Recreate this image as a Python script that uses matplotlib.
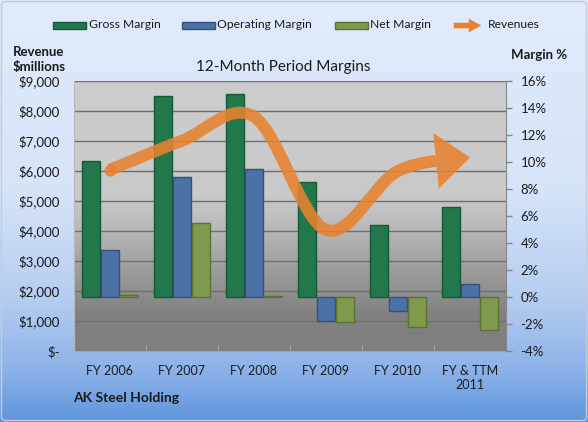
import numpy as np
import matplotlib
matplotlib.use('Agg')
import matplotlib.pyplot as plt
from matplotlib.colors import LinearSegmentedColormap
from matplotlib.patches import Rectangle, FancyBboxPatch, FancyArrowPatch, PathPatch
from matplotlib.path import Path
from matplotlib.bezier import split_de_casteljau

plt.rcParams['font.family'] = ['Lato', 'DejaVu Sans']

# data
periods = ['FY 2006', 'FY 2007', 'FY 2008', 'FY 2009', 'FY 2010', 'FY & TTM\n2011']
gross_margin = [10.1, 14.9, 15.05, 8.55, 5.35, 6.65]
operating_margin = [3.45, 8.9, 9.45, -1.75, -1.0, 1.0]
net_margin = [0.15, 5.45, 0.1, -1.85, -2.2, -2.45]
revenues = [6040, 7010, 7810, 4040, 6000, 6450]

rev_ticks = [0, 1000, 2000, 3000, 4000, 5000, 6000, 7000, 8000, 9000]
rev_labels = ['$-', '$1,000', '$2,000', '$3,000', '$4,000', '$5,000',
              '$6,000', '$7,000', '$8,000', '$9,000']
pct_ticks = [-4, -2, 0, 2, 4, 6, 8, 10, 12, 14, 16]
pct_labels = [f'{t}%' for t in pct_ticks]

W, H = 588, 422
GREEN, GREEN_E = '#22784b', '#17573a'
BLUE, BLUE_E = '#4b71a6', '#34507c'
OLIVE, OLIVE_E = '#7f9a4a', '#5c7233'
ORANGE = '#e8822f'
TXT = '#1a1a1a'


def fx(px):
    return px / W


def fy(py):
    return 1 - py / H


fig = plt.figure(figsize=(W / 100, H / 100), dpi=100)

# figure background gradient
bg = fig.add_axes([0, 0, 1, 1], zorder=-5)
bg_cmap = LinearSegmentedColormap.from_list('bg', [
    (0.0, '#e1ebfb'), (0.45, '#d6e4f9'), (0.7, '#b7cef1'),
    (0.88, '#8bb2e8'), (1.0, '#5f95dc')])
bg.imshow(np.linspace(0, 1, 256).reshape(-1, 1), cmap=bg_cmap, aspect='auto',
          extent=[0, 1, 0, 1], origin='upper')
bg.set_xlim(0, 1)
bg.set_ylim(0, 1)
bg.axis('off')
fig.patches.append(FancyBboxPatch((fx(1.5), fy(420.5)), fx(585), fy(1.5) - fy(420.5),
                                  boxstyle='round,pad=0,rounding_size=0.008',
                                  transform=fig.transFigure, fill=False,
                                  edgecolor='#c4ccd6', lw=1.0))

# revenue axis (left) carries the background and gridlines
ax = fig.add_axes([fx(74), fy(351), fx(506) - fx(74), fy(81) - fy(351)])
plot_cmap = LinearSegmentedColormap.from_list('pa', [
    (0.0, '#7f7f7f'), (0.14, '#818181'), (0.48, '#bdbdbd'),
    (0.58, '#c9c9c9'), (1.0, '#cdcdcd')])
ax.imshow(np.linspace(0, 1, 256).reshape(-1, 1), cmap=plot_cmap, aspect='auto',
          extent=[0, 1, 0, 1], origin='lower', transform=ax.transAxes, zorder=0)
ax.set_xlim(-0.5, len(periods) - 0.5)
ax.set_ylim(0, 9000)
ax.set_yticks(rev_ticks, rev_labels)
ax.yaxis.grid(True, color='#6e6e6e', lw=1.0)
ax.tick_params(axis='y', length=0, pad=10, labelsize=9.5, colors=TXT)
ax.set_xticks(range(len(periods)), periods)
ax.set_xticks(np.arange(-0.5, len(periods)), minor=True)
ax.tick_params(axis='x', which='major', length=0, pad=10, labelsize=9, colors=TXT)
ax.tick_params(axis='x', which='minor', length=4, direction='in', color='#b0b0b0')
for s in ['top', 'right']:
    ax.spines[s].set_visible(False)
ax.spines['left'].set_color('#b8b8b8')
ax.spines['bottom'].set_color('#a8a8a8')

# margin axis (right) carries the bars
ax2 = ax.twinx()
ax2.set_ylim(-4, 16)
ax2.set_yticks(pct_ticks, pct_labels)
ax2.tick_params(axis='y', length=4, width=1, color='#868686', labelcolor=TXT,
                pad=6.5, labelsize=9.5)
for s in ['top', 'left', 'bottom']:
    ax2.spines[s].set_visible(False)
ax2.spines['right'].set_color('#868686')

x = np.arange(len(periods))
bw = 0.25
ax2.bar(x - 0.258, gross_margin, bw, color=GREEN, edgecolor=GREEN_E, lw=1.0, zorder=2)
ax2.bar(x, operating_margin, bw, color=BLUE, edgecolor=BLUE_E, lw=1.0, zorder=2)
ax2.bar(x + 0.258, net_margin, bw, color=OLIVE, edgecolor=OLIVE_E, lw=1.0, zorder=2)

# smoothed revenue line (Catmull-Rom as cubic Bezier), drawn in revenue coords
pts = np.column_stack([x, revenues]).astype(float)
ext = np.vstack([pts[0], pts, pts[-1]])
segs = []
for i in range(len(pts) - 1):
    p0, p1, p2, p3 = ext[i], ext[i + 1], ext[i + 2], ext[i + 3]
    segs.append([p1, p1 + (p2 - p0) / 6, p2 - (p3 - p1) / 6, p2])
last_left, _ = split_de_casteljau(np.array(segs[-1]), 0.47)
segs[-1] = list(last_left)
verts = [segs[0][0]]
codes = [Path.MOVETO]
for s in segs:
    verts += [s[1], s[2], s[3]]
    codes += [Path.CURVE4] * 3
shaft = PathPatch(Path(verts, codes), fill=False, edgecolor=ORANGE, lw=8.6,
                  alpha=0.88, capstyle='butt', transform=ax.transData, zorder=5)
ax2.add_patch(shaft)
# round start cap
ax2.plot([pts[0][0]], [pts[0][1]], 'o', ms=8.6, color=ORANGE, alpha=0.88,
         mew=0, transform=ax.transData, zorder=5)

fig.canvas.draw()
tip = pts[-1]
base = np.array(segs[-1][3])
d_px = np.hypot(*(ax.transData.transform(tip) - ax.transData.transform(base)))
head = FancyArrowPatch(tuple(base), tuple(tip), transform=ax.transData,
                       arrowstyle=f'simple,head_length={d_px * 0.72:.2f},'
                                  f'head_width={56 * 0.72:.2f},tail_width=0.1',
                       mutation_scale=1, color=ORANGE, alpha=0.88, lw=0,
                       shrinkA=0, shrinkB=0, zorder=5)
ax2.add_patch(head)

# texts
fig.text(fx(283), fy(67), '12-Month Period Margins', ha='center', va='center',
         fontsize=11, color=TXT)
fig.text(fx(13), fy(51.5), 'Revenue', ha='left', va='center', fontsize=9.5,
         fontweight='bold', color=TXT)
fig.text(fx(13), fy(66.5), '$millions', ha='left', va='center', fontsize=9.5,
         fontweight='bold', color=TXT)
fig.text(fx(539), fy(55), 'Margin %', ha='center', va='center', fontsize=9.5,
         fontweight='bold', color=TXT)
fig.text(fx(73), fy(398), 'AK Steel Holding', ha='left', va='center',
         fontsize=10, fontweight='bold', color=TXT)

# legend row
legend_items = [('Gross Margin', GREEN, GREEN_E, 52.5, 89),
                ('Operating Margin', BLUE, BLUE_E, 181.5, 217),
                ('Net Margin', OLIVE, OLIVE_E, 334.5, 370.5)]
for label, fc, ec, px0, tx in legend_items:
    fig.patches.append(Rectangle((fx(px0), fy(29)), fx(33), fy(22) - fy(29),
                                 transform=fig.transFigure, facecolor=fc,
                                 edgecolor=ec, lw=1.0))
    fig.text(fx(tx), fy(25), label, ha='left', va='center', fontsize=8.7,
             color=TXT)
fig.patches.append(FancyArrowPatch((fx(451), fy(25.5)), (fx(484), fy(25.5)),
                                   transform=fig.transFigure,
                                   arrowstyle='simple,head_length=9,head_width=10,tail_width=4',
                                   mutation_scale=1, color=ORANGE, lw=0))
fig.text(fx(487.5), fy(25), 'Revenues', ha='left', va='center', fontsize=8.7,
         color=TXT)

fig.savefig('out.png', dpi=100)
